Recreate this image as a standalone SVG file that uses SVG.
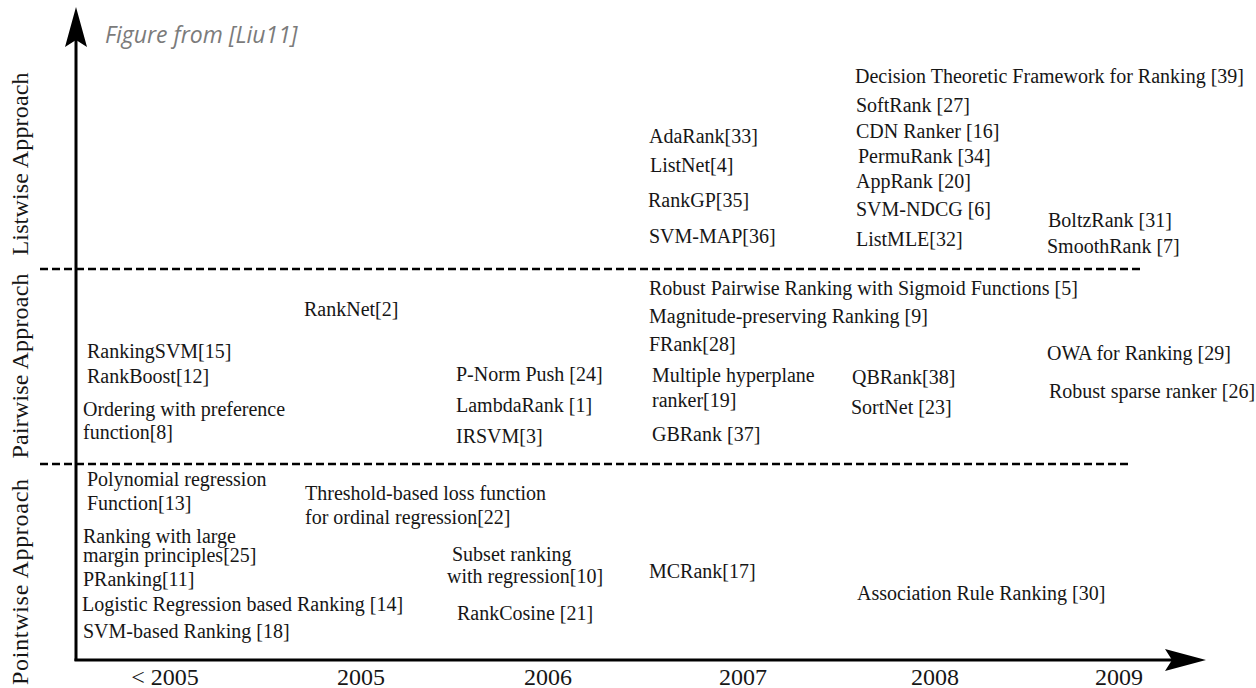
<svg xmlns="http://www.w3.org/2000/svg" width="1256" height="688" viewBox="0 0 1256 688">
<style>
  .t { font-family: "Liberation Serif", "Times New Roman", serif; font-size: 20px; fill: #161616; }
  .yr { font-family: "Liberation Serif", "Times New Roman", serif; font-size: 24px; fill: #161616; text-anchor: middle; }
  .ax { font-family: "Liberation Serif", "Times New Roman", serif; font-size: 24px; fill: #161616; text-anchor: middle; }
  .src { font-family: "Open Sans", "Liberation Sans", sans-serif; font-size: 23px; font-style: italic; fill: #7b7b7b; }
  .axis { stroke: #000; stroke-width: 3; fill: none; }
  .sep { stroke: #000; stroke-width: 2.6; stroke-dasharray: 8 4; fill: none; }
  .head { fill: #000; }
</style>
<rect width="1256" height="688" fill="#ffffff"/>

<g id="connectors">
  <line class="axis" x1="76" y1="661" x2="76" y2="40"/>
  <polygon class="head" points="76,7 87,47 76,40 65,47"/>
  <line class="axis" x1="74.5" y1="660" x2="1172" y2="660"/>
  <polygon class="head" points="1206,660 1165,649 1172,660 1165,671"/>
  <line class="sep" x1="40" y1="269" x2="1140" y2="269"/>
  <line class="sep" x1="40" y1="464" x2="1128" y2="464"/>
</g>

<g id="source"><text class="src" x="105" y="43">Figure from [Liu11]</text></g>

<g id="axis-labels">
  <text class="ax" x="28" y="164" transform="rotate(-90 28 164)" textLength="183" lengthAdjust="spacing">Listwise Approach</text>
  <text class="ax" x="28" y="366" transform="rotate(-90 28 366)" textLength="185" lengthAdjust="spacing">Pairwise Approach</text>
  <text class="ax" x="28" y="582" transform="rotate(-90 28 582)" textLength="206" lengthAdjust="spacing">Pointwise Approach</text>
</g>

<g id="years">
  <text class="yr" x="165" y="685">&lt; 2005</text>
  <text class="yr" x="361" y="685">2005</text>
  <text class="yr" x="548" y="685">2006</text>
  <text class="yr" x="743" y="685">2007</text>
  <text class="yr" x="935" y="685">2008</text>
  <text class="yr" x="1119" y="685">2009</text>
</g>

<!-- Listwise -->
<g id="n-decision"><text class="t" x="855" y="83">Decision Theoretic Framework for Ranking [39]</text></g>
<g id="n-softrank"><text class="t" x="856" y="112">SoftRank [27]</text></g>
<g id="n-cdn"><text class="t" x="856" y="138">CDN Ranker [16]</text></g>
<g id="n-permurank"><text class="t" x="858" y="163">PermuRank [34]</text></g>
<g id="n-apprank"><text class="t" x="856" y="188">AppRank [20]</text></g>
<g id="n-svmndcg"><text class="t" x="856" y="216">SVM-NDCG [6]</text></g>
<g id="n-listmle"><text class="t" x="856" y="246">ListMLE[32]</text></g>
<g id="n-boltzrank"><text class="t" x="1048" y="227">BoltzRank [31]</text></g>
<g id="n-smoothrank"><text class="t" x="1047" y="253">SmoothRank [7]</text></g>
<g id="n-adarank"><text class="t" x="649" y="143">AdaRank[33]</text></g>
<g id="n-listnet"><text class="t" x="650" y="172">ListNet[4]</text></g>
<g id="n-rankgp"><text class="t" x="648" y="207">RankGP[35]</text></g>
<g id="n-svmmap"><text class="t" x="649" y="243">SVM-MAP[36]</text></g>

<!-- Pairwise -->
<g id="n-ranknet"><text class="t" x="304" y="316">RankNet[2]</text></g>
<g id="n-rankingsvm"><text class="t" x="87" y="358">RankingSVM[15]</text></g>
<g id="n-rankboost"><text class="t" x="87" y="383">RankBoost[12]</text></g>
<g id="n-ordering"><text class="t" x="83" y="416">Ordering with preference<tspan x="83" dy="23">function[8]</tspan></text></g>
<g id="n-pnorm"><text class="t" x="456" y="381">P-Norm Push [24]</text></g>
<g id="n-lambdarank"><text class="t" x="456" y="412">LambdaRank [1]</text></g>
<g id="n-irsvm"><text class="t" x="456" y="443">IRSVM[3]</text></g>
<g id="n-robustpairwise"><text class="t" x="649" y="295">Robust Pairwise Ranking with Sigmoid Functions [5]</text></g>
<g id="n-magnitude"><text class="t" x="649" y="323">Magnitude-preserving Ranking [9]</text></g>
<g id="n-frank"><text class="t" x="649" y="351">FRank[28]</text></g>
<g id="n-multiple"><text class="t" x="652" y="382">Multiple hyperplane<tspan x="652" dy="25">ranker[19]</tspan></text></g>
<g id="n-gbrank"><text class="t" x="652" y="441">GBRank [37]</text></g>
<g id="n-qbrank"><text class="t" x="852" y="384">QBRank[38]</text></g>
<g id="n-sortnet"><text class="t" x="851" y="414">SortNet [23]</text></g>
<g id="n-owa"><text class="t" x="1047" y="360">OWA for Ranking [29]</text></g>
<g id="n-robustsparse"><text class="t" x="1049" y="398">Robust sparse ranker [26]</text></g>

<!-- Pointwise -->
<g id="n-polynomial"><text class="t" x="87" y="486">Polynomial regression<tspan x="87" dy="24">Function[13]</tspan></text></g>
<g id="n-threshold"><text class="t" x="305" y="500">Threshold-based loss function<tspan x="305" dy="24">for ordinal regression[22]</tspan></text></g>
<g id="n-largemargin"><text class="t" x="83" y="543">Ranking with large<tspan x="83" dy="19">margin principles[25]</tspan></text></g>
<g id="n-subset"><text class="t" x="452" y="561">Subset ranking<tspan x="447" dy="22">with regression[10]</tspan></text></g>
<g id="n-mcrank"><text class="t" x="649" y="578">MCRank[17]</text></g>
<g id="n-pranking"><text class="t" x="83" y="586">PRanking[11]</text></g>
<g id="n-logistic"><text class="t" x="82" y="611">Logistic Regression based Ranking [14]</text></g>
<g id="n-rankcosine"><text class="t" x="457" y="620">RankCosine [21]</text></g>
<g id="n-association"><text class="t" x="857" y="600">Association Rule Ranking [30]</text></g>
<g id="n-svmbased"><text class="t" x="83" y="638">SVM-based Ranking [18]</text></g>
</svg>
